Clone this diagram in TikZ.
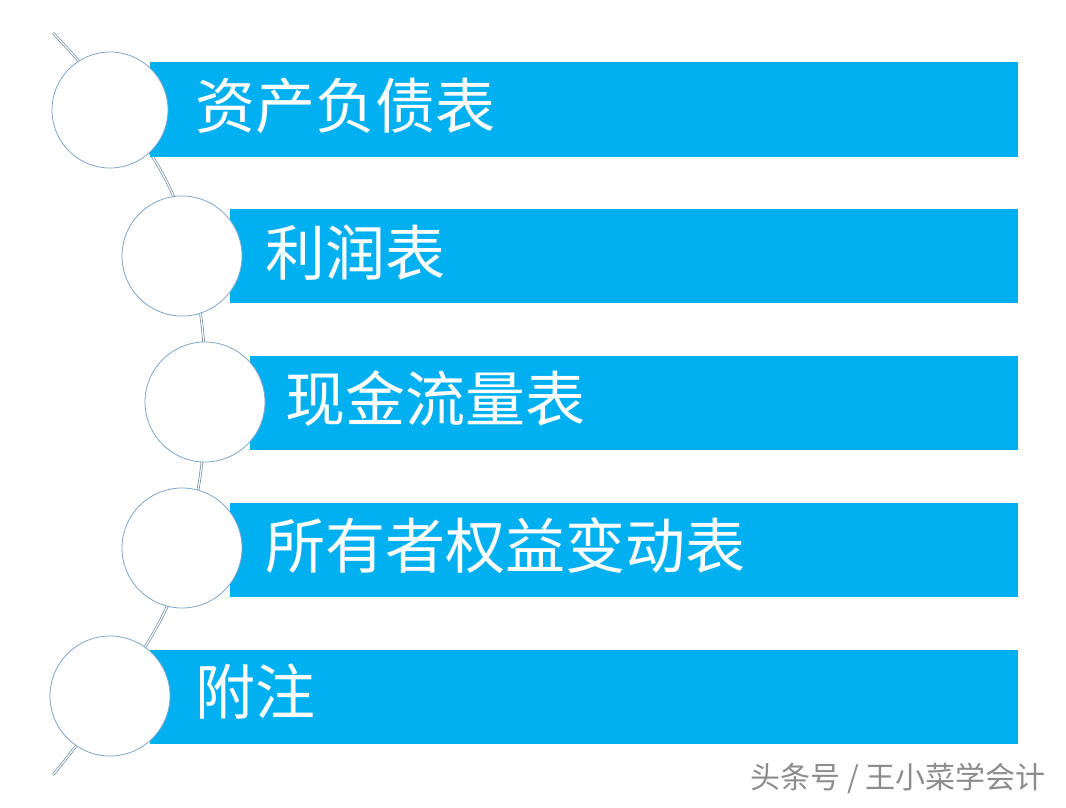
\documentclass[tikz,border=0pt]{standalone}
\usepackage{fontspec}
\newfontfamily\cjk{Noto Sans CJK SC}
\begin{document}
\begin{tikzpicture}[x=1pt,y=-1pt,
  bar/.style={fill=barblue,draw=none},
  circ/.style={circle,fill=white,draw=circblue,line width=0.8pt,minimum size=120pt,inner sep=0},
  lbl/.style={anchor=west,text=white,font=\cjk\fontsize{60}{64}\selectfont,inner sep=0}]
\definecolor{barblue}{HTML}{00B0F0}
\definecolor{circblue}{HTML}{7FA6C8}
\definecolor{linec}{HTML}{6F8BA3}
\useasboundingbox (0,0) rectangle (1066,808);
\fill[white] (0,0) rectangle (1066,808);
\draw[linec,double=white,double distance=1.2pt,line width=0.7pt]
  plot[smooth,tension=0.6] coordinates {(53,33) (120,110) (175,200) (200,310) (205,400) (198,490) (170,600) (110,700) (53,775)};
\fill[bar] (150,62) rectangle (1018,157);
\fill[bar] (230,209) rectangle (1018,303);
\fill[bar] (250,356) rectangle (1018,450);
\fill[bar] (230,503) rectangle (1018,597);
\fill[bar] (150,650) rectangle (1018,744);
\node[circ,minimum size=116pt] (c1) at (110,110) {};
\node[circ] (c2) at (182,256) {};
\node[circ] (c3) at (205,402) {};
\node[circ] (c4) at (182,548) {};
\node[circ] (c5) at (110,696) {};
\node[lbl] (t1) at (195,106) {资产负债表};
\node[lbl] (t2) at (265,253) {利润表};
\node[lbl] (t3) at (285,399) {现金流量表};
\node[lbl] (t4) at (265,546) {所有者权益变动表};
\node[lbl] (t5) at (195,692) {附注};
\node[anchor=east,text=gray!90,font=\cjk\fontsize{30}{32}\selectfont,inner sep=0] (wm) at (1046,778) {头条号 / 王小菜学会计};
\end{tikzpicture}
\end{document}
